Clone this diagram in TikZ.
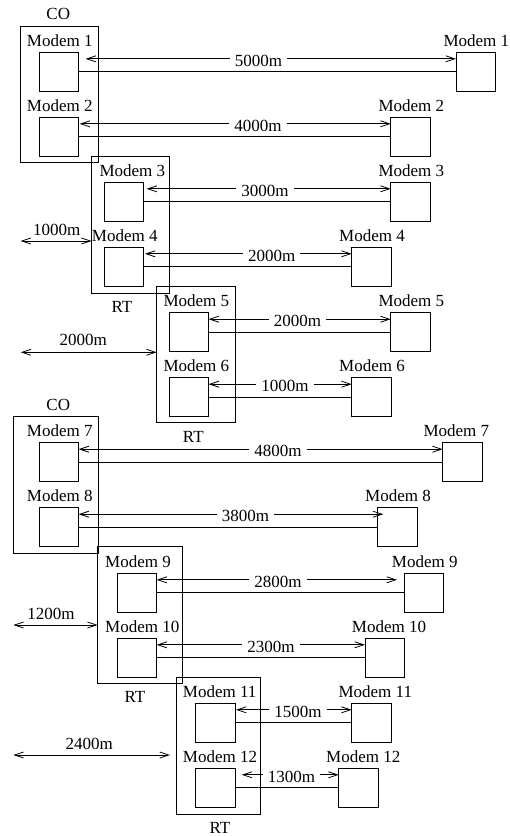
\documentclass[tikz,border=0pt]{standalone}
\usepackage{fontspec}
\setmainfont{Liberation Serif}
\usetikzlibrary{arrows.meta}
\begin{document}
\begin{tikzpicture}[x=1pt,y=1pt,
  every node/.style={font=\fontsize{17}{20}\selectfont},
  modem/.style={draw, line width=0.8pt, minimum width=39.3pt, minimum height=39pt, inner sep=0pt, outer sep=0pt, anchor=north west},
  grp/.style={draw, line width=0.8pt, inner sep=0pt, outer sep=0pt, anchor=north west},
  txt/.style={inner sep=0pt, anchor=base west},
  gtxt/.style={inner sep=0pt, anchor=base},
  dist/.style={fill=white, inner xsep=5pt, inner ysep=1pt, anchor=base},
  darr/.style={line width=0.8pt, {Straight Barb[length=9pt,width=6pt]}-{Straight Barb[length=9pt,width=6pt]}},
  wire/.style={line width=0.8pt}]
\useasboundingbox (0,0) rectangle (510,-836);
% group boxes
\node[grp, minimum width=78.3pt, minimum height=136pt] (CO1) at (20,-26.7) {};
\node[grp, minimum width=77.6pt, minimum height=137pt] (RT1) at (91.7,-156.3) {};
\node[grp, minimum width=78.3pt, minimum height=136pt] (RT2) at (156.7,-286.7) {};
\node[grp, minimum width=85pt, minimum height=136.6pt] (CO2) at (13.3,-416.7) {};
\node[grp, minimum width=85pt, minimum height=136.6pt] (RT3) at (97.7,-546.7) {};
\node[grp, minimum width=84.7pt, minimum height=136.7pt] (RT4) at (176,-677.3) {};
\node[gtxt] (gCO1) at (58.3,-19.5) {CO};
\node[gtxt] (gRT1) at (122,-312.7) {RT};
\node[gtxt] (gRT2) at (193.3,-442.7) {RT};
\node[gtxt] (gCO2) at (58.3,-410.7) {CO};
\node[gtxt] (gRT3) at (135,-702.7) {RT};
\node[gtxt] (gRT4) at (220,-833.3) {RT};
% modem boxes
\foreach \n/\x/\y in {L1/39.3/52.3, R1/456/52.3, L2/39.3/117.3, R2/390.7/117.3,
  L3/104.3/182.3, R3/390.7/182.3, L4/104.3/247.3, R4/351.7/247.3,
  L5/169.3/312.7, R5/390.7/312.7, L6/169.3/377.7, R6/351.7/377.7,
  L7/39.3/442.7, R7/442.7/442.7, L8/39.3/507.7, R8/377.7/507.7,
  L9/117.3/573.3, R9/404/573.3, L10/117.3/638.3, R10/365/638.3,
  L11/195.7/703.3, R11/351.7/703.3, L12/195.7/768.3, R12/338.7/768.3}
  \node[modem] (\n) at (\x,-\y) {};
% modem labels
\foreach \n/\x/\y/\s in {L1/26.7/46.3/1, R1/443.3/46.3/1, L2/26.7/111.3/2, R2/378.3/111.3/2,
  L3/99.3/176.3/3, R3/378.3/176.3/3, L4/91.7/241.3/4, R4/339/241.3/4,
  L5/163.3/306.7/5, R5/378.3/306.7/5, L6/163.3/371.7/6, R6/339/371.7/6,
  L7/26.7/436.7/7, R7/423.3/436.7/7, L8/26.7/501.7/8, R8/365/501.7/8,
  L9/105/567.3/9, R9/391.7/567.3/9, L10/105/632.3/10, R10/351.7/632.3/10,
  L11/182.7/697.3/11, R11/338.3/697.3/11, L12/182.7/762.3/12, R12/326/762.3/12}
  \node[txt] (t\n) at (\x,-\y) {Modem \s};
% links between modems
\foreach \i/\lab/\lx/\ay/\ka/\kb in {1/5000m/258.5/59/7/0, 2/4000m/258/124/1/0,
  3/3000m/265/189/3/0, 4/2000m/271.7/254/1.3/0, 5/2000m/297.5/319.2/0/0,
  6/1000m/285/384.2/0/0, 7/4800m/278/449.2/0/0, 8/3800m/245.5/514.2/0/5.6,
  9/2800m/278/579.8/0/-7, 10/2300m/271/644.8/0/0, 11/1500m/298/709.8/1/0,
  12/1300m/291.5/774.8/6.7/0}
{
  \draw[darr] ([xshift=\ka pt,yshift=-6.5pt]L\i.north east) -- ([xshift=\kb pt,yshift=-6.5pt]R\i.north west);
  \draw[wire] (L\i.east) -- (R\i.west);
  \node[dist] (d\i) at ({\lx},{-\ay-7.7}) {\lab};
}
% distances of remote terminals
\coordinate (e1) at (20.7,-241);
\coordinate (e2) at (20.7,-352.3);
\coordinate (e3) at (13.3,-625);
\coordinate (e4) at (13.3,-755);
\draw[darr] (e1) -- (e1 -| RT1.west);
\draw[darr] (e2) -- (e2 -| RT2.west);
\draw[darr] (e3) -- (e3 -| RT3.west);
\draw[darr] (e4) -- ([xshift=-6pt]e4 -| RT4.west);
\node[gtxt] (f1) at (56.7,-235) {1000m};
\node[gtxt] (f2) at (83.3,-345) {2000m};
\node[gtxt] (f3) at (51,-619.3) {1200m};
\node[gtxt] (f4) at (89.3,-749.3) {2400m};
\end{tikzpicture}
\end{document}
